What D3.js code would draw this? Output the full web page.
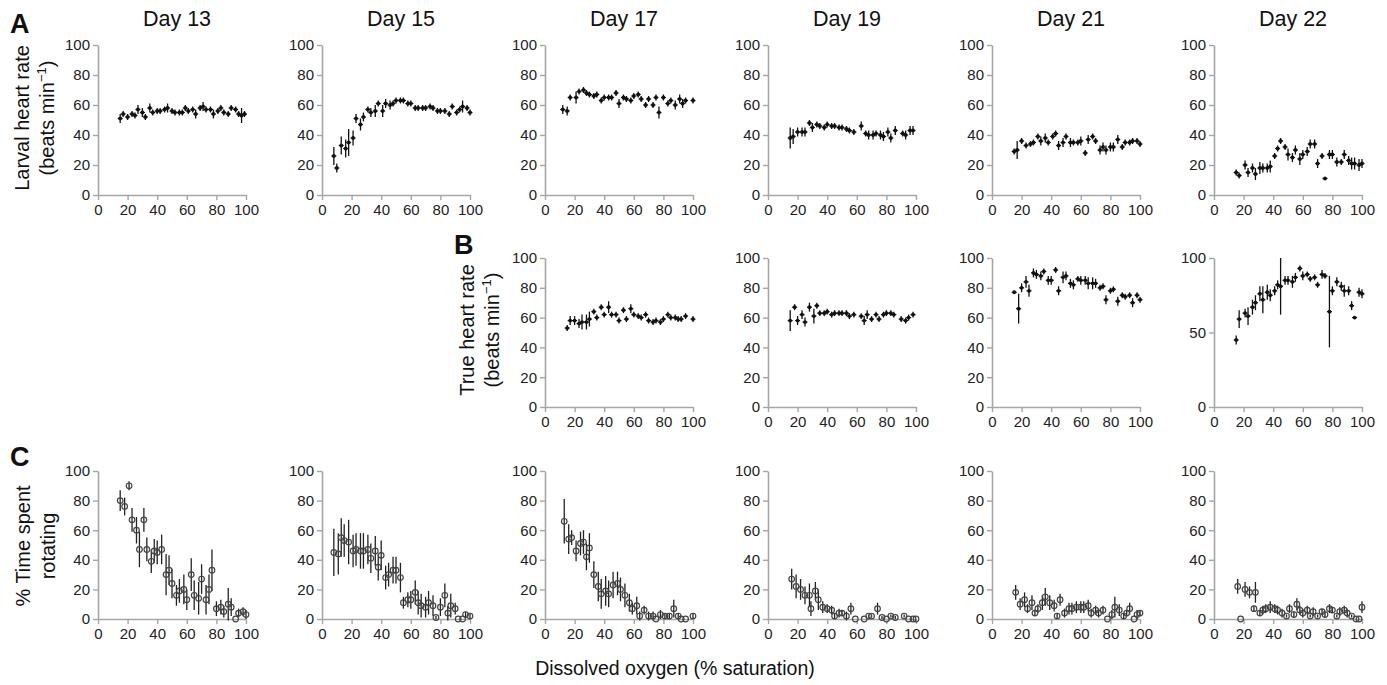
<!DOCTYPE html>
<html><head><meta charset="utf-8">
<script src="https://cdn.jsdelivr.net/npm/d3@7"></script>
<style>
body{margin:0;background:#fff;}
svg{display:block;font-family:"Liberation Sans",Arial,sans-serif;}
</style></head>
<body><svg id="c" width="1387" height="685"></svg>
<script>
// ---- data: [dissolved O2 %, value, error half-range] ----
const dayLabels = ["Day 13","Day 15","Day 17","Day 19","Day 21","Day 22"];
const xTicks = [0,20,40,60,80,100];
const yTicks = [0,20,40,60,80,100];
const yTicksB22 = [0,50,100];

const larval13 = [[15,51,3],[17,54,2],[20,52,2],[23,54,2],[25,53,2],[27,57,3],[30,55,3],[32,52,2],[35,58,3],[37,55,2],[40,56,2],[42,56,2],[45,57,2],[47,58,3],[50,56,2],[52,55,2],[55,55,2],[57,55,2],[59,58,2],[61,56,2],[64,57,2],[66,54,3],[69,58,2],[71,59,3],[73,57,2],[76,57,2],[78,54,3],[81,56,2],[83,58,2],[85,55,2],[88,54,2],[90,58,2],[93,57,2],[95,54,2],[97,53,5],[99,54,2]];
const larval15 = [[8,26,6],[10,18,3],[13,33,6],[16,31,6],[18,35,9],[21,38,5],[23,51,3],[26,47,4],[28,52,3],[31,57,2],[33,55,3],[36,56,4],[38,61,2],[41,56,4],[43,61,3],[46,60,3],[48,61,2],[50,63,2],[53,63,2],[55,63,2],[58,61,2],[60,61,2],[63,58,2],[65,58,2],[68,58,2],[70,58,2],[73,59,2],[75,58,2],[78,56,2],[80,56,2],[83,56,2],[86,54,2],[88,59,2],[91,55,2],[93,57,2],[95,59,4],[98,58,2],[100,55,2]];
const larval17 = [[12,57,3],[15,56,3],[17,65,2],[21,65,4],[23,69,2],[26,70,2],[28,68,2],[30,67,2],[33,66,2],[35,67,2],[38,63,2],[40,65,2],[43,65,2],[45,65,2],[48,68,2],[50,61,3],[53,65,2],[55,64,2],[58,63,2],[60,66,2],[63,67,2],[65,64,2],[68,60,2],[70,64,2],[73,60,2],[75,65,2],[77,55,4],[80,65,2],[83,61,2],[85,63,2],[88,60,3],[91,64,3],[93,61,3],[95,63,2],[100,63,2]];
const larval19 = [[15,38,7],[17,39,5],[20,42,3],[23,42,3],[25,42,3],[28,48,2],[30,45,3],[33,47,2],[35,46,2],[38,45,2],[40,47,2],[43,46,2],[45,46,2],[48,45,2],[50,45,2],[53,44,2],[55,43,2],[58,42,2],[63,46,3],[66,41,2],[68,40,3],[71,40,3],[73,41,2],[76,40,3],[78,39,3],[81,42,3],[83,38,3],[86,43,3],[91,41,2],[93,40,3],[96,43,3],[98,43,3]];
const larval21 = [[15,29,2],[17,30,6],[20,36,2],[23,33,2],[26,34,2],[28,35,2],[31,39,2],[33,36,3],[36,38,3],[38,35,2],[41,39,2],[43,41,2],[45,33,3],[48,35,3],[50,39,2],[53,35,3],[55,35,2],[58,35,2],[60,36,3],[63,28,2],[65,37,3],[68,39,2],[70,36,2],[73,30,3],[75,32,3],[77,30,3],[80,32,3],[82,32,3],[85,37,3],[88,32,2],[90,35,2],[93,35,2],[95,36,2],[98,36,2],[100,34,2]];
const larval22 = [[15,15,2],[17,13,2],[21,20,3],[23,15,3],[26,18,3],[28,14,4],[31,18,4],[33,18,3],[36,18,3],[38,19,4],[41,26,2],[43,31,2],[45,36,2],[48,32,2],[50,27,4],[53,25,3],[55,30,3],[58,24,4],[60,27,3],[63,29,3],[65,34,3],[68,34,3],[70,21,3],[73,26,2],[75,11,1],[78,27,3],[80,27,3],[83,22,3],[86,22,2],[88,27,3],[91,23,3],[93,21,4],[95,21,4],[98,20,4],[100,21,3]];

const true17 = [[15,53,2],[17,58,3],[20,58,3],[23,56,3],[25,57,5],[28,57,5],[30,59,5],[33,64,2],[35,60,2],[38,67,2],[40,62,2],[43,67,4],[45,62,2],[48,62,2],[50,58,2],[53,65,2],[55,59,2],[58,66,3],[60,62,2],[63,61,2],[65,60,2],[68,62,2],[70,58,2],[73,57,2],[75,58,2],[78,57,2],[80,59,2],[83,62,2],[85,60,2],[88,60,2],[90,59,2],[92,59,2],[95,61,2],[100,59,2]];
const true19 = [[15,58,7],[18,67,2],[20,58,3],[23,62,3],[25,57,3],[28,67,3],[31,61,5],[33,68,2],[35,63,2],[38,63,2],[40,64,2],[43,62,2],[45,63,2],[48,63,2],[50,63,2],[53,63,2],[55,61,2],[58,62,2],[63,61,2],[65,58,3],[67,62,3],[70,59,2],[73,62,2],[75,59,2],[78,62,2],[80,63,2],[83,63,2],[85,62,2],[90,59,2],[93,58,2],[95,60,2],[98,62,2]];
const true21 = [[15,77,1],[18,66,10],[20,80,3],[23,84,4],[25,78,4],[28,90,3],[30,89,3],[33,88,3],[35,91,2],[38,85,3],[40,85,3],[43,92,2],[45,78,3],[48,87,4],[50,88,3],[53,83,3],[55,82,3],[58,86,2],[60,85,3],[63,85,3],[65,83,4],[68,83,4],[70,83,3],[73,80,2],[75,81,2],[77,72,3],[80,78,2],[82,79,2],[85,71,3],[88,75,2],[90,74,2],[93,75,2],[95,70,3],[98,75,2],[100,72,2]];
const true22 = [[15,45,3],[17,59,6],[21,63,3],[23,61,6],[26,67,5],[28,70,5],[31,76,5],[33,72,9],[36,77,5],[38,75,4],[41,78,3],[43,82,3],[45,81,19],[48,85,3],[50,85,3],[53,84,4],[55,87,3],[58,93,2],[60,88,3],[63,89,2],[65,86,2],[68,87,2],[70,82,2],[73,89,3],[75,88,2],[78,64,24],[80,78,3],[83,84,3],[86,81,3],[88,78,4],[91,78,3],[93,68,3],[95,60,1],[98,77,3],[100,76,3]];

const rot13 = [[15,80,7],[18,76,6],[21,90,3],[23,67,8],[26,60,9],[28,47,12],[31,67,8],[33,47,8],[36,39,8],[38,46,8],[40,45,8],[43,47,10],[46,30,14],[48,33,10],[50,24,10],[53,16,7],[55,19,8],[58,20,10],[60,13,7],[63,30,11],[65,16,10],[68,14,11],[70,27,10],[73,13,10],[75,20,10],[77,33,14],[80,7,5],[83,8,5],[85,5,4],[88,10,11],[90,8,6],[93,0,0],[95,4,3],[98,5,3],[100,3,3]];
const rot15 = [[8,45,16],[11,44,14],[13,55,13],[15,53,11],[18,52,15],[21,46,11],[23,47,11],[26,46,12],[28,46,12],[31,47,10],[33,41,10],[36,46,10],[38,35,9],[40,43,10],[43,28,8],[45,30,8],[48,33,9],[50,33,9],[53,28,10],[55,11,4],[58,13,5],[60,13,6],[63,18,8],[65,11,8],[67,9,8],[70,8,7],[72,11,8],[75,9,7],[77,1,1],[80,8,6],[83,16,8],[85,4,5],[87,9,8],[90,7,4],[92,0,0],[95,0,0],[97,3,2],[100,2,2]];
const rot17 = [[13,66,15],[16,54,10],[18,55,5],[21,46,7],[24,51,8],[26,52,8],[28,42,9],[30,48,10],[33,30,9],[36,22,10],[38,17,10],[41,19,10],[43,17,9],[46,23,9],[49,24,8],[51,20,8],[54,16,8],[57,11,6],[59,7,4],[62,9,6],[64,2,3],[67,6,3],[70,2,3],[73,2,3],[75,0,0],[78,3,3],[81,2,2],[84,2,2],[87,7,6],[90,2,2],[92,0,0],[95,0,0],[100,2,2]];
const rot19 = [[16,27,7],[19,22,8],[22,20,7],[25,16,6],[28,16,8],[29,7,5],[32,19,6],[34,13,7],[37,8,4],[40,7,3],[43,6,3],[45,2,2],[48,4,3],[50,4,2],[53,2,3],[56,7,4],[59,0,0],[65,0,0],[68,2,1],[70,2,1],[74,7,4],[77,1,1],[80,0,0],[83,2,1],[86,1,1],[92,2,1],[95,0,0],[98,0,0],[100,0,0]];
const rot21 = [[16,18,5],[19,10,4],[22,13,5],[24,7,3],[27,11,5],[29,4,2],[31,7,3],[34,11,5],[36,15,6],[39,11,5],[42,9,4],[44,2,2],[46,13,4],[49,4,3],[52,7,4],[54,7,4],[57,8,4],[60,8,4],[62,8,4],[65,9,4],[67,4,3],[70,6,3],[72,4,3],[75,6,3],[78,0,0],[81,3,3],[83,8,7],[86,6,4],[89,2,2],[91,4,2],[93,7,4],[96,0,0],[98,3,3],[100,4,2]];
const rot22 = [[16,22,5],[18,0,0],[21,20,5],[24,18,4],[27,7,2],[28,18,7],[31,4,2],[33,6,3],[35,7,3],[38,8,4],[41,7,3],[43,6,3],[46,4,3],[49,2,1],[51,7,3],[54,3,2],[56,10,4],[58,6,3],[60,4,3],[63,6,3],[65,2,1],[67,5,3],[70,2,1],[73,5,2],[75,3,2],[78,7,3],[80,6,2],[83,2,1],[85,5,3],[88,6,3],[90,4,3],[93,2,1],[96,0,0],[98,0,0],[100,8,4]];

// ---- layout ----
const colX = [98, 322, 545, 768, 992, 1214];
const plotW = 148;
const rowY = {A:[45,195], B:[258,407], C:[471,619]};

const panels = [
  {row:"A", col:0, data:larval13}, {row:"A", col:1, data:larval15}, {row:"A", col:2, data:larval17},
  {row:"A", col:3, data:larval19}, {row:"A", col:4, data:larval21}, {row:"A", col:5, data:larval22},
  {row:"B", col:2, data:true17}, {row:"B", col:3, data:true19}, {row:"B", col:4, data:true21},
  {row:"B", col:5, data:true22, ticks:yTicksB22},
  {row:"C", col:0, data:rot13}, {row:"C", col:1, data:rot15}, {row:"C", col:2, data:rot17},
  {row:"C", col:3, data:rot19}, {row:"C", col:4, data:rot21}, {row:"C", col:5, data:rot22}
];

const svg = d3.select("#c");
const axisColor = "#a6a6a6", textColor = "#222";

panels.forEach(p => {
  const x0 = colX[p.col], [yTop, yBot] = rowY[p.row];
  const x = d3.scaleLinear().domain([0,100]).range([x0, x0 + plotW]);
  const y = d3.scaleLinear().domain([0,100]).range([yBot, yTop]);
  const g = svg.append("g");

  const ya = g.append("g").attr("transform", `translate(${x0},0)`)
    .call(d3.axisLeft(y).tickValues(p.ticks || yTicks).tickSize(5).tickPadding(3).tickSizeOuter(0));
  const xa = g.append("g").attr("transform", `translate(0,${yBot})`)
    .call(d3.axisBottom(x).tickValues(xTicks).tickSize(5).tickPadding(4).tickSizeOuter(0));
  [ya, xa].forEach(a => {
    a.selectAll("path.domain").attr("stroke", axisColor).attr("stroke-width", 1.6);
    a.selectAll(".tick line").attr("stroke", axisColor).attr("stroke-width", 1.4);
    a.selectAll("text").attr("fill", textColor).attr("font-size", 15)
      .attr("font-family", '"Liberation Sans",Arial,sans-serif');
  });

  const pts = g.append("g");
  if (p.row === "C") {
    pts.selectAll("line.err").data(p.data.filter(d => d[2] > 0)).join("line")
      .attr("x1", d => x(d[0])).attr("x2", d => x(d[0]))
      .attr("y1", d => y(d[1] - d[2])).attr("y2", d => y(d[1] + d[2]))
      .attr("stroke", "#222").attr("stroke-width", 1.3);
    pts.selectAll("circle").data(p.data).join("circle")
      .attr("cx", d => x(d[0])).attr("cy", d => y(d[1])).attr("r", 2.8)
      .attr("fill", "none").attr("stroke", "#444").attr("stroke-width", 1.2);
  } else {
    pts.selectAll("line.err").data(p.data).join("line")
      .attr("x1", d => x(d[0])).attr("x2", d => x(d[0]))
      .attr("y1", d => y(d[1] - d[2])).attr("y2", d => y(d[1] + d[2]))
      .attr("stroke", "#111").attr("stroke-width", 1.3);
    pts.selectAll("line.h").data(p.data).join("line").attr("class","h")
      .attr("x1", d => x(d[0]) - 2.5).attr("x2", d => x(d[0]) + 2.5)
      .attr("y1", d => y(d[1])).attr("y2", d => y(d[1]))
      .attr("stroke", "#111").attr("stroke-width", 1.2);
    pts.selectAll("circle").data(p.data).join("circle")
      .attr("cx", d => x(d[0])).attr("cy", d => y(d[1])).attr("r", 1.9)
      .attr("fill", "#111");
  }
});

// Day titles
svg.selectAll("text.day").data(dayLabels).join("text").attr("class","day")
  .attr("x", (d,i) => colX[i] + plotW/2 + 5).attr("y", 26)
  .attr("text-anchor","middle").attr("font-size", 21.5).attr("fill", "#111").text(d => d);

// Panel letters
[["A",10,33],["B",454,254],["C",10,466]].forEach(([t,px,py]) => {
  svg.append("text").attr("x",px).attr("y",py).attr("font-size",27)
    .attr("font-weight","bold").attr("fill","#111").text(t);
});

// Y axis titles
function yTitle(lines, cx, cy) {
  const t = svg.append("text").attr("transform", `translate(${cx},${cy}) rotate(-90)`)
    .attr("text-anchor","middle").attr("font-size",20).attr("fill","#111");
  lines.forEach((ln, i) => {
    const ts = t.append("tspan").attr("x", 0).attr("dy", i === 0 ? 0 : 25);
    if (Array.isArray(ln)) {
      ts.text(ln[0]);
      ts.append("tspan").attr("font-size", 13).attr("dy", -8).text(ln[1]);
      ts.append("tspan").attr("dy", 8).text(ln[2]);
    } else ts.text(ln);
  });
}
yTitle(["Larval heart rate", ["(beats min","−1",")"]], 29, 118);
yTitle(["True heart rate", ["(beats min","−1",")"]], 474, 330);
yTitle(["% Time spent", "rotating"], 30, 546);

// X axis title
svg.append("text").attr("x", 675).attr("y", 675).attr("text-anchor","middle")
  .attr("font-size", 19.5).attr("fill","#111").text("Dissolved oxygen (% saturation)");
</script></body></html>
